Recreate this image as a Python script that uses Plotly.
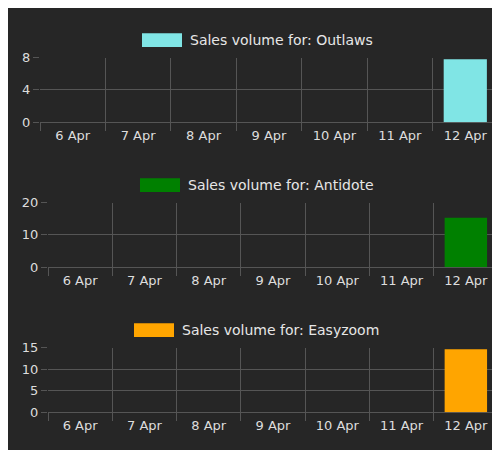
import plotly.graph_objects as go

days = ["6 Apr", "7 Apr", "8 Apr", "9 Apr", "10 Apr", "11 Apr", "12 Apr"]
outlaws = [0, 0, 0, 0, 0, 0, 7.8]
antidote = [0, 0, 0, 0, 0, 0, 15.3]
easyzoom = [0, 0, 0, 0, 0, 0, 14.6]
names = ["Outlaws", "Antidote", "Easyzoom"]
colors = ["#80e5e5", "#008000", "#ffa500"]

W, H = 500, 450
panels = [
    # series, y-range, dtick, x domain px, y px (top, bottom), swatch x px, swatch y px
    (outlaws, [0, 8], 4, (32, 490), (44, 111), 134, 19),
    (antidote, [0, 20], 10, (40, 490), (194, 261), 132, 169),
    (easyzoom, [0, 15], 5, (40, 490), (344, 411), 126, 319),
]

fig = go.Figure()
shapes, annots = [], []
for i, (vals, yr, dt, xd, yd, sx, sy) in enumerate(panels):
    n = "" if i == 0 else str(i + 1)
    fig.add_trace(go.Bar(x=days, y=vals, marker_color=colors[i], width=0.66,
                         marker_line_width=0,
                         xaxis="x" + n, yaxis="y" + n, showlegend=False))
    fig.update_layout({
        "xaxis" + n: dict(domain=[xd[0] / W, xd[1] / W], anchor="y" + n,
                          tickson="boundaries", ticks="outside", ticklen=8,
                          tickcolor="#555", showgrid=True, gridcolor="#555",
                          ticklabelstandoff=4, tickfont=dict(size=13),
                          zeroline=False, showline=False, fixedrange=True),
        "yaxis" + n: dict(domain=[1 - yd[1] / H, 1 - yd[0] / H], anchor="x" + n,
                          range=yr, dtick=dt, showgrid=True, gridcolor="#555",
                          zeroline=True, zerolinecolor="#555", zerolinewidth=1,
                          ticks="outside", ticklen=6, tickfont=dict(size=13),
                          tickcolor="#555", fixedrange=True),
    })
    shapes.append(dict(type="rect", xref="paper", yref="paper",
                       x0=sx / W, x1=(sx + 40) / W, y0=1 - (sy + 14) / H, y1=1 - sy / H,
                       fillcolor=colors[i], line=dict(width=0)))
    annots.append(dict(xref="paper", yref="paper", x=(sx + 46) / W, y=1 - (sy + 7) / H,
                       xanchor="left", yanchor="middle", showarrow=False,
                       text="Sales volume for: " + names[i],
                       font=dict(size=14, color="#e6e6e6")))

fig.update_layout(
    width=W, height=H, margin=dict(l=0, r=0, t=0, b=0),
    paper_bgcolor="#262626", plot_bgcolor="#262626",
    font=dict(family="DejaVu Sans", size=12, color="#dddddd"),
    shapes=shapes, annotations=annots, bargap=0.34,
)
fig.write_html("out.html")
